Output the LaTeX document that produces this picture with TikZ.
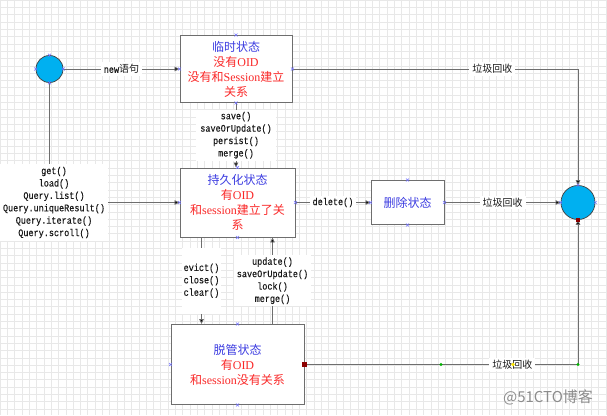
\documentclass[tikz,border=0pt]{standalone}
\usepackage{fontspec}
\setmainfont{Noto Sans CJK SC}
\newfontfamily\lmono[FakeStretch=0.85,FakeBold=0.25]{Liberation Mono}
\newfontfamily\lserif{Liberation Serif}
\usetikzlibrary{arrows.meta}
\definecolor{ttlblue}{RGB}{60,60,225}
\definecolor{txtred}{RGB}{250,40,40}
\definecolor{circfill}{RGB}{0,176,240}
\definecolor{linegray}{RGB}{110,110,110}
\begin{document}
\begin{tikzpicture}[x=1pt,y=-1pt,
  gridc/.style={draw=black!9, line width=0.35pt},
  statebox/.style={draw=linegray, line width=0.9pt, fill=white, align=center, inner sep=0pt,
    text=txtred, font=\fontsize{12}{15}\selectfont},
  circ/.style={circle, draw=black!75, line width=0.7pt, fill=circfill, inner sep=0pt},
  conn/.style={draw=linegray, line width=0.8pt},
  arr/.style={conn, -{Triangle[length=5pt,width=4.5pt,fill=black]}},
  lbl/.style={fill=white, align=center, inner xsep=3pt, inner ysep=2pt, text=black!90,
    font=\lmono\fontsize{10}{12.4}\selectfont},
  cjklbl/.style={lbl, font=\fontsize{10}{12}\selectfont},
  xm/.pic={\draw[blue!55, line width=0.5pt] (-1.5,-1.5)--(1.5,1.5) (-1.5,1.5)--(1.5,-1.5);},
  redsq/.pic={\fill[red!55!black] (-2.2,-2.2) rectangle (2.2,2.2);},
  gdot/.pic={\fill[green!70!black] (0,0) circle (1.6pt);},
  ydot/.pic={\fill[yellow!90!orange] (0,0) circle (1.8pt);}
]
\useasboundingbox (0,0) rectangle (607,415);
\fill[white] (0,0) rectangle (607,415);
\draw[gridc] (0,0) grid[step=7.3pt] (607,415);

% circles
\node[circ, minimum size=27pt] (c1) at (49.5,69) {};
\node[circ, minimum size=34pt] (c2) at (578,202.5) {};

% state boxes
\node[statebox, minimum width=112pt, minimum height=67pt] (trans) at (236,69)
  {{\color{ttlblue}临时状态}\\没有{\lserif OID}\\没有和{\lserif Session}建立\\关系};
\node[statebox, minimum width=115pt, minimum height=69pt] (pers) at (237.5,202.5)
  {{\color{ttlblue}持久化状态}\\有{\lserif OID}\\和{\lserif session}建立了关\\系};
\node[statebox, minimum width=73pt, minimum height=44pt] (del) at (407.5,202.5)
  {{\color{ttlblue}删除状态}};
\node[statebox, minimum width=133pt, minimum height=80pt] (det) at (237.5,364.5)
  {{\color{ttlblue}脱管状态}\\有{\lserif OID}\\和{\lserif session}没有关系};

% connectors
\draw[arr] (c1.east) -- node[lbl]{new{\rmfamily\fontsize{10}{12}\selectfont 语句}} (trans.west);
\draw[arr] (trans.east) -| node[cjklbl, pos=0.35]{垃圾回收} (c2.north);
\draw[arr] (trans.south) -- node[lbl, inner xsep=4pt]{save()\\saveOrUpdate()\\persist()\\merge()} (trans.south |- pers.north);
\draw[arr] (c1.south) |- node[lbl, pos=0.5, xshift=4.5pt, inner ysep=3pt]{get()\\load()\\Query.list()\\Query.uniqueResult()\\Query.iterate()\\Query.scroll()} (pers.west);
\draw[arr] (pers.east) -- node[lbl]{delete()} (del.west);
\draw[arr] (del.east) -- node[cjklbl]{垃圾回收} (c2.west);
\draw[arr] ([xshift=-36pt]pers.south) -- node[lbl, inner ysep=16pt, inner xsep=2pt]{evict()\\close()\\clear()} ([xshift=-36pt]det.north);
\draw[arr] ([xshift=35pt]det.north) -- node[lbl, inner ysep=2pt]{update()\\saveOrUpdate()\\lock()\\merge()} ([xshift=35pt]pers.south);
\draw[arr] (det.east) -| node[cjklbl, pos=0.38]{垃圾回收} (c2.south);

% connection markers
\foreach \n in {trans.north,trans.south,trans.west,trans.east,
                pers.north,pers.south,pers.west,pers.east,
                del.north,del.south,del.west,del.east,
                det.north,det.south,det.west,
                c1.north,c1.south,c1.west,c1.east,
                c2.north,c2.west,c2.east}
  \pic at (\n) {xm};
\pic at (det.east) {redsq};
\pic at (c2.south) {redsq};
\pic at (441,364.5) {gdot};
\pic at (c2.south |- det.east) {gdot};
\pic at (513,364.5) {ydot};

% watermark
\node[text=black!45, font=\fontsize{15}{15}\selectfont, inner sep=0pt] (wm) at (548,397) {@51CTO博客};
\end{tikzpicture}
\end{document}
